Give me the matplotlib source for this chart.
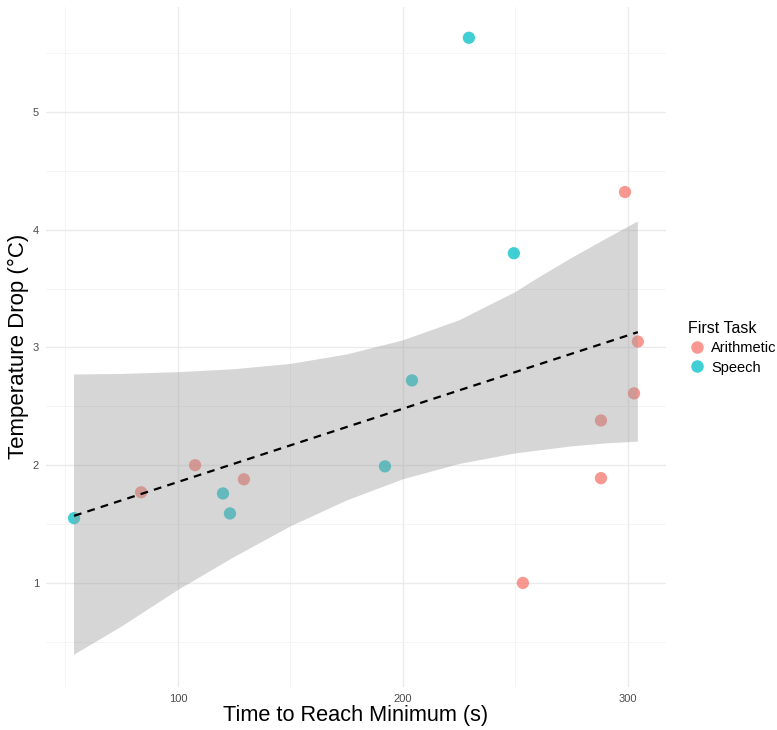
import numpy as np
import matplotlib
matplotlib.use("Agg")
from matplotlib import pyplot as plt
from matplotlib.lines import Line2D

plt.rcParams['font.family'] = ['Liberation Sans', 'DejaVu Sans']

# points
arith_x = [83.6, 107.6, 129.3, 253.3, 288.0, 288.0, 298.7, 302.7, 304.4]
arith_y = [1.77, 2.00, 1.88, 1.00, 1.89, 2.38, 4.32, 2.61, 3.05]
speech_x = [53.8, 120.0, 123.1, 192.0, 204.0, 229.3, 249.3]
speech_y = [1.55, 1.76, 1.59, 1.99, 2.72, 5.63, 3.80]

# fitted line and its band (edges read at several x positions)
fit_x = [53.8, 304.4]
fit_y = [1.57, 3.13]
band_up_x = [53.8, 75, 100, 125, 150, 175, 200, 225, 250, 260, 275, 290, 304.4]
band_up_y = [2.77, 2.775, 2.79, 2.815, 2.86, 2.94, 3.06, 3.23, 3.47, 3.59, 3.76, 3.92, 4.07]
band_lo_x = [53.8, 75, 100, 125, 150, 175, 200, 225, 250, 275, 290, 304.4]
band_lo_y = [0.39, 0.63, 0.94, 1.22, 1.48, 1.70, 1.88, 2.01, 2.10, 2.16, 2.185, 2.20]

col_arith = '#F8766D'
col_speech = '#00BFC4'

fig = plt.figure(figsize=(7.77, 7.3), dpi=100)
ax = fig.add_axes([0.0591, 0.0595, 0.798, 0.9307])

ax.scatter(arith_x, arith_y, s=78, color=col_arith, alpha=0.75, edgecolors='none', zorder=3)
ax.scatter(speech_x, speech_y, s=78, color=col_speech, alpha=0.75, edgecolors='none', zorder=3)

# band is drawn over the points, like geom_smooth after geom_point
bx = np.concatenate([band_up_x, band_lo_x[::-1]])
by = np.concatenate([band_up_y, band_lo_y[::-1]])
ax.fill(bx, by, color='#999999', alpha=0.4, linewidth=0, zorder=4)
ax.plot(fit_x, fit_y, color='black', lw=1.6, linestyle=(0, (3.5, 2.8)), zorder=5)

ax.set_xlim(41.3, 316.9)
ax.set_ylim(0.12, 5.89)
ax.set_xticks([100, 200, 300])
ax.set_yticks([1, 2, 3, 4, 5])
ax.set_xticks([50, 150, 250], minor=True)
ax.set_yticks([0.5, 1.5, 2.5, 3.5, 4.5, 5.5], minor=True)
ax.grid(True, which='major', color='#EBEBEB', lw=1.0, zorder=0)
ax.grid(True, which='minor', color='#F2F2F2', lw=0.6, zorder=0)
ax.set_axisbelow(True)
for s in ax.spines.values():
    s.set_visible(False)
ax.tick_params(which='both', length=0, labelsize=8, labelcolor='#4D4D4D', pad=5)

ax.set_xlabel('Time to Reach Minimum (s)', fontsize=15.7, color='black', labelpad=1)
ax.set_ylabel('Temperature Drop (°C)', fontsize=16, color='black', labelpad=3)

handles = [Line2D([], [], marker='o', linestyle='none', markersize=9, color=col_arith, alpha=0.75, markeredgewidth=0),
           Line2D([], [], marker='o', linestyle='none', markersize=9, color=col_speech, alpha=0.75, markeredgewidth=0)]
leg = fig.legend(handles, ['Arithmetic', 'Speech'], title='First Task', loc='upper left',
                 bbox_to_anchor=(681 / 777, 1 - 314 / 730), frameon=False, fontsize=10.5,
                 title_fontsize=11.5, handletextpad=0.35, borderpad=0, labelspacing=0.35,
                 handlelength=1.2, alignment='left')

fig.savefig('out.png', dpi=100)
